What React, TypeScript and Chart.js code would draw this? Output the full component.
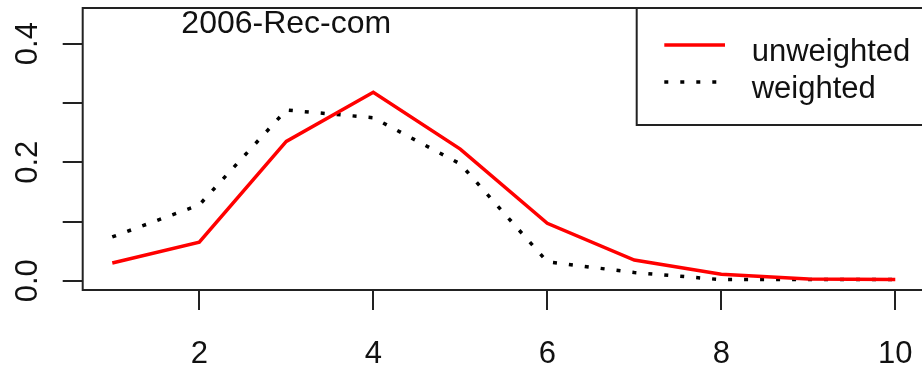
import React, { useEffect, useRef } from "react";
import { Chart, registerables } from "chart.js";

Chart.register(...registerables);

const categories = [1, 2, 3, 4, 5, 6, 7, 8, 9, 10];
const unweighted = [0.030, 0.065, 0.235, 0.318, 0.222, 0.097, 0.035, 0.011, 0.003, 0.002];
const weighted = [0.074, 0.128, 0.288, 0.275, 0.197, 0.032, 0.014, 0.002, 0.002, 0.002];
const xTicks = [2, 4, 6, 8, 10];
const xTickLabels = ["2", "4", "6", "8", "10"];
const yTicks = [0, 0.1, 0.2, 0.3, 0.4];
const yTickLabels = ["0.0", "", "0.2", "", "0.4"];
const seriesNames = ["unweighted", "weighted"];
const titleText = "2006-Rec-com";

const FONT = '31px "Liberation Sans", Arial, sans-serif';
const TITLE_FONT = '32px "Liberation Sans", Arial, sans-serif';
const CANVAS_W = 960;
const CANVAS_H = 370;

const rPlot = {
  id: "rPlot",
  afterDraw(chart: any) {
    const { ctx, chartArea, scales } = chart;
    const xs = scales.x;
    const ys = scales.y;
    ctx.save();
    // plot box
    ctx.strokeStyle = "#222";
    ctx.lineWidth = 2;
    ctx.strokeRect(chartArea.left, chartArea.top, chartArea.right - chartArea.left, chartArea.bottom - chartArea.top);

    ctx.fillStyle = "#111";
    ctx.font = FONT;
    // x tick labels
    ctx.textAlign = "center";
    ctx.textBaseline = "alphabetic";
    xTicks.forEach((v, i) => {
      ctx.fillText(xTickLabels[i], xs.getPixelForValue(v), chartArea.bottom + 73);
    });
    // y tick labels (rotated)
    yTicks.forEach((v, i) => {
      if (!yTickLabels[i]) return;
      ctx.save();
      ctx.translate(chartArea.left - 46, ys.getPixelForValue(v));
      ctx.rotate(-Math.PI / 2);
      ctx.textAlign = "center";
      ctx.textBaseline = "alphabetic";
      ctx.fillText(yTickLabels[i], 0, 0);
      ctx.restore();
    });
    // title text inside plot
    ctx.font = TITLE_FONT;
    ctx.textAlign = "center";
    ctx.fillText(titleText, xs.getPixelForValue(3), ys.getPixelForValue(0.44) + 13.4);

    // legend
    ctx.font = FONT;
    const lx = 636.7;
    const ly = chartArea.top;
    ctx.strokeStyle = "#222";
    ctx.lineWidth = 2;
    ctx.strokeRect(lx, ly, CANVAS_W, 117);
    const ds = chart.data.datasets;
    const rows = [45, 82];
    ds.forEach((d: any, i: number) => {
      ctx.save();
      ctx.strokeStyle = d.borderColor;
      ctx.lineWidth = d.borderWidth;
      ctx.setLineDash(d.borderDash || []);
      ctx.lineCap = "butt";
      ctx.beginPath();
      ctx.moveTo(lx + 27.6, rows[i]);
      ctx.lineTo(lx + 88.3, rows[i]);
      ctx.stroke();
      ctx.restore();
      ctx.fillStyle = "#111";
      ctx.textAlign = "left";
      ctx.textBaseline = "alphabetic";
      ctx.fillText(d.label, lx + 115, rows[i] + 16);
    });
    ctx.restore();
  },
};

export default function App() {
  const ref = useRef<HTMLCanvasElement>(null);
  useEffect(() => {
    if (!ref.current) return;
    const chart = new Chart(ref.current, {
      type: "line",
      data: {
        datasets: [
          {
            label: seriesNames[0],
            data: categories.map((c, i) => ({ x: c, y: unweighted[i] })),
            borderColor: "#ff0000",
            borderWidth: 3.5,
            pointRadius: 0,
            tension: 0,
            fill: false,
          },
          {
            label: seriesNames[1],
            data: categories.map((c, i) => ({ x: c, y: weighted[i] })),
            borderColor: "#000000",
            borderWidth: 3.5,
            borderDash: [4, 12],
            borderCapStyle: "butt",
            pointRadius: 0,
            tension: 0,
            fill: false,
          },
        ],
      },
      options: {
        animation: false,
        responsive: false,
        devicePixelRatio: 1,
        layout: { padding: { left: 0, right: CANVAS_W - 926.6, top: 8, bottom: 0 } },
        plugins: { legend: { display: false }, tooltip: { enabled: false } },
        scales: {
          x: {
            type: "linear",
            min: 0.66,
            max: 10.36,
            afterBuildTicks: (s: any) => {
              s.ticks = xTicks.map((v) => ({ value: v }));
            },
            afterFit: (s: any) => {
              s.height = 80;
            },
            ticks: { display: false },
            grid: { drawOnChartArea: false, drawTicks: true, tickLength: 20, color: "#222", lineWidth: 2 },
            border: { display: false },
          },
          y: {
            type: "linear",
            min: -0.0155,
            max: 0.46,
            afterBuildTicks: (s: any) => {
              s.ticks = yTicks.map((v) => ({ value: v }));
            },
            afterFit: (s: any) => {
              s.width = 82.7;
            },
            ticks: { display: false },
            grid: { drawOnChartArea: false, drawTicks: true, tickLength: 20, color: "#222", lineWidth: 2 },
            border: { display: false },
          },
        },
      } as any,
      plugins: [rPlot],
    });
    return () => chart.destroy();
  }, []);
  return (
    <div
      style={{
        position: "fixed",
        left: 0,
        top: 0,
        width: 922,
        height: 370,
        overflow: "hidden",
        background: "#fff",
      }}
    >
      <canvas ref={ref} width={CANVAS_W} height={CANVAS_H} style={{ display: "block", width: CANVAS_W, height: CANVAS_H }} />
    </div>
  );
}
